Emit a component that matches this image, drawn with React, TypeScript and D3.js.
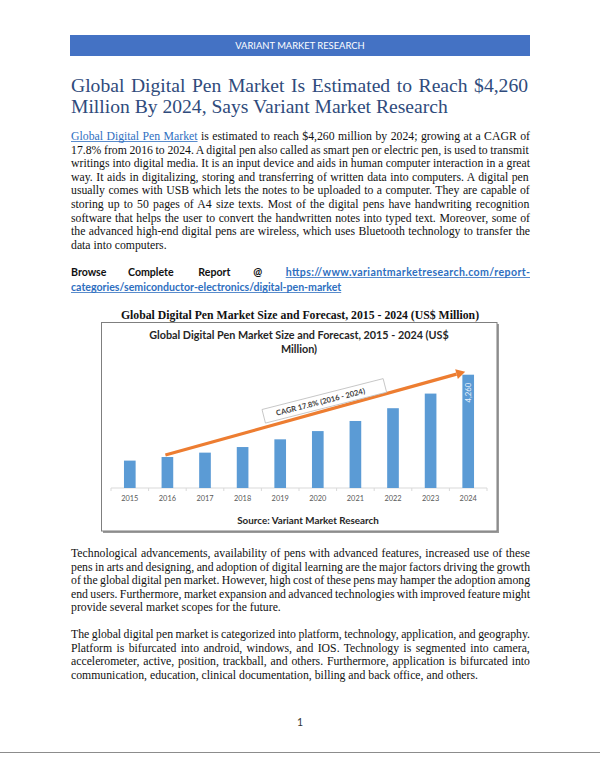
import React from 'react';
import * as d3 from 'd3';

// ---------- data ----------
const years = ['2015', '2016', '2017', '2018', '2019', '2020', '2021', '2022', '2023', '2024'];
const marketSize = [1030, 1165, 1330, 1540, 1830, 2140, 2520, 3000, 3550, 4260];
const lastValueLabel = '4,260';
const cagrLabel = 'CAGR 17.8% (2016 - 2024)';
const chartTitleLines = ['Global Digital Pen Market Size and Forecast, 2015 - 2024 (US$', 'Million)'];
const sourceText = 'Source: Variant Market Research';

const headerText = 'VARIANT MARKET RESEARCH';
const titleLines = [
  'Global Digital Pen Market Is Estimated to Reach $4,260',
  'Million By 2024, Says Variant Market Research',
];
const introLink = 'Global Digital Pen Market';
const para1 = [
  ' is estimated to reach $4,260 million by 2024; growing at a CAGR of',
  '17.8% from 2016 to 2024. A digital pen also called as smart pen or electric pen, is used to transmit',
  'writings into digital media. It is an input device and aids in human computer interaction in a great',
  'way. It aids in digitalizing, storing and transferring of written data into computers. A digital pen',
  'usually comes with USB which lets the notes to be uploaded to a computer. They are capable of',
  'storing up to 50 pages of A4 size texts. Most of the digital pens have handwriting recognition',
  'software that helps the user to convert the handwritten notes into typed text. Moreover, some of',
  'the advanced high-end digital pens are wireless, which uses Bluetooth technology to transfer the',
  'data into computers.',
];
const browseWords = ['Browse', 'Complete', 'Report', '@'];
const browseLinkLines = [
  'https://www.variantmarketresearch.com/report-',
  'categories/semiconductor-electronics/digital-pen-market',
];
const captionText = 'Global Digital Pen Market Size and Forecast, 2015 - 2024 (US$ Million)';
const para2 = [
  'Technological advancements, availability of pens with advanced features, increased use of these',
  'pens in arts and designing, and adoption of digital learning are the major factors driving the growth',
  'of the global digital pen market. However, high cost of these pens may hamper the adoption among',
  'end users. Furthermore, market expansion and advanced technologies with improved feature might',
  'provide several market scopes for the future.',
];
const para3 = [
  'The global digital pen market is categorized into platform, technology, application, and geography.',
  'Platform is bifurcated into android, windows, and IOS. Technology is segmented into camera,',
  'accelerometer, active, position, trackball, and others. Furthermore, application is bifurcated into',
  'communication, education, clinical documentation, billing and back office, and others.',
];
const pageNumber = '1';

// ---------- helpers ----------
const SERIF = '"Liberation Serif", "Times New Roman", serif';
const SANS = 'Lato, "Open Sans", sans-serif';
let ctx: CanvasRenderingContext2D | null = null;
function tw(text: string, size: number, family: string, weight = 'normal') {
  if (!ctx) ctx = document.createElement('canvas').getContext('2d');
  if (!ctx) return text.length * size * 0.45;
  ctx.font = `${weight} ${size}px ${family}`;
  return ctx.measureText(text).width;
}
function wordSpacing(text: string, width: number, size: number, family: string, weight = 'normal') {
  const spaces = (text.match(/ /g) || []).length;
  if (!spaces) return 0;
  return (width - tw(text, size, family, weight)) / spaces;
}

const LEFT = 71;
const RIGHT = 530;
const WIDTH = RIGHT - LEFT;
const BODY = 11.76;
const LH = 13.6;
const TEXT = '#111111';
const LINK = '#2f6fbf';

function Paragraph({ lines, y0 }: { lines: string[]; y0: number }) {
  return (
    <g>
      {lines.map((l, i) => {
        const last = i === lines.length - 1;
        const ws = last ? 0 : wordSpacing(l, WIDTH, BODY, SERIF);
        return (
          <text key={i} x={LEFT} y={y0 + i * LH} fontFamily={SERIF} fontSize={BODY} fill={TEXT}
            style={{ wordSpacing: `${ws}px` }}>
            {l}
          </text>
        );
      })}
    </g>
  );
}

function Chart() {
  const x = d3.scaleBand<string>().domain(years).range([111, 487]).paddingInner(0.69).paddingOuter(0.345);
  const y = d3.scaleLinear().domain([0, 4260]).range([488, 374.7]);
  const bw = x.bandwidth();
  const cx = (yr: string) => (x(yr) as number) + bw / 2;

  const a0: [number, number] = [cx('2016') - 2, y(marketSize[1]) - 2];
  const a1: [number, number] = [cx('2024') - 3, y(marketSize[9]) - 3];
  const ang = Math.atan2(a1[1] - a0[1], a1[0] - a0[0]);
  const head = 9, hw = 5;
  const bx = a1[0] - head * Math.cos(ang), by = a1[1] - head * Math.sin(ang);
  const headPts = [
    a1,
    [bx + hw * Math.sin(ang), by - hw * Math.cos(ang)],
    [bx - hw * Math.sin(ang), by + hw * Math.cos(ang)],
  ].map((p) => p.join(',')).join(' ');
  const mid: [number, number] = [(a0[0] + a1[0]) / 2, (a0[1] + a1[1]) / 2];
  const boxC: [number, number] = [mid[0] + 9, mid[1] - 12.5];
  const boundaries = d3.range(years.length + 1).map((i) => 111 + i * x.step());

  return (
    <g>
      {/* frame with shadow */}
      <rect x={103} y={324} width={396} height={209} fill="#9a9a9a" />
      <rect x={101.5} y={322.5} width={395.5} height={208.5} fill="#ffffff" stroke="#7f7f7f" strokeWidth={1} />
      {chartTitleLines.map((t, i) => (
        <text key={i} x={299} y={339 + i * 13.8} textAnchor="middle" fontFamily={SANS} fontWeight={700}
          fontSize={10.8} fill="#262626">{t}</text>
      ))}
      {/* axis */}
      <line x1={111} x2={487} y1={488} y2={488} stroke="#d9d9d9" strokeWidth={1} />
      {boundaries.map((b, i) => (
        <line key={i} x1={b} x2={b} y1={488} y2={491} stroke="#d9d9d9" strokeWidth={1} />
      ))}
      {years.map((yr, i) => (
        <rect key={yr} x={x(yr)} y={y(marketSize[i])} width={bw} height={488 - y(marketSize[i])} fill="#5b9bd5" />
      ))}
      {years.map((yr) => (
        <text key={yr} x={cx(yr)} y={500.5} textAnchor="middle" fontFamily={SANS} fontSize={7.4} fill="#595959">{yr}</text>
      ))}
      <text transform={`translate(${cx('2024') + 2.6},${y(marketSize[9]) + 18}) rotate(-90)`} textAnchor="middle"
        fontFamily={SANS} fontSize={7.8} fill="#eef4fb">{lastValueLabel}</text>
      {/* CAGR arrow */}
      <line x1={a0[0]} y1={a0[1]} x2={bx} y2={by} stroke="#ed7d31" strokeWidth={3.2} />
      <polygon points={headPts} fill="#ed7d31" />
      <g transform={`translate(${boxC[0]},${boxC[1]}) rotate(-14.3)`}>
        <rect x={-62.5} y={-7} width={125} height={14} fill="#ffffff" stroke="#bfbfbf" strokeWidth={0.8} />
        <text x={-4} y={2.8} textAnchor="middle" fontFamily={SANS} fontWeight={700} fontSize={7.6} fill="#404040">{cagrLabel}</text>
      </g>
      <text x={308} y={523.5} textAnchor="middle" fontFamily={SANS} fontWeight={700} fontSize={9.8} fill="#262626">{sourceText}</text>
    </g>
  );
}

export default function App() {
  const linkW = tw(introLink, BODY, SERIF);
  const line1 = introLink + para1[0];
  const ws1 = wordSpacing(line1, WIDTH, BODY, SERIF);
  const linkEnd = LEFT + linkW + ws1 * 3;

  const bSize = 10.6;
  const l1w = RIGHT - 285.7;
  const link2W = tw(browseLinkLines[1], bSize, SANS, '700');
  const browseX = [71, 128, 198.3, 253.3];

  return (
    <div style={{ position: 'absolute', left: 0, top: 0 }}>
      <svg width={600} height={776} viewBox="0 0 600 776" style={{ display: 'block', background: '#ffffff' }}>
        <rect x={0} y={0} width={600} height={776} fill="#ffffff" />
        {/* header */}
        <rect x={70} y={35} width={460} height={21} fill="#4472c4" />
        <text x={300} y={49} textAnchor="middle" fontFamily={SANS} fontSize={9.4} fill="#ffffff">{headerText}</text>
        {/* title */}
        {titleLines.map((t, i) => (
          <text key={i} x={LEFT} y={92 + i * 20.5} fontFamily={SERIF} fontSize={19.6} fill="#2f4b7c"
            style={{ wordSpacing: `${i === 0 ? wordSpacing(t, 457, 19.6, SERIF) : 0}px` }}>{t}</text>
        ))}
        {/* paragraph 1 */}
        <text x={LEFT} y={140} fontFamily={SERIF} fontSize={BODY} fill={TEXT} style={{ wordSpacing: `${ws1}px` }}>
          <tspan fill={LINK}>{introLink}</tspan>
          <tspan>{para1[0]}</tspan>
        </text>
        <line x1={LEFT} x2={linkEnd} y1={141.5} y2={141.5} stroke={LINK} strokeWidth={0.8} />
        <Paragraph lines={para1.slice(1)} y0={140 + LH} />
        {/* browse */}
        {browseWords.map((w, i) => (
          <text key={w} x={browseX[i]} y={275.5} fontFamily={SANS} fontWeight={700} fontSize={bSize} fill="#111111">{w}</text>
        ))}
        <text x={285.7} y={275.5} fontFamily={SANS} fontWeight={700} fontSize={bSize} fill={LINK}
          textLength={l1w} lengthAdjust="spacing">{browseLinkLines[0]}</text>
        <line x1={285.7} x2={RIGHT} y1={277.5} y2={277.5} stroke={LINK} strokeWidth={0.8} />
        <text x={LEFT} y={290.5} fontFamily={SANS} fontWeight={700} fontSize={bSize} fill={LINK}>{browseLinkLines[1]}</text>
        <line x1={LEFT} x2={LEFT + link2W} y1={292.5} y2={292.5} stroke={LINK} strokeWidth={0.8} />
        {/* caption */}
        <text x={300} y={319} textAnchor="middle" fontFamily={SERIF} fontWeight={700} fontSize={11.76} fill="#111111">{captionText}</text>
        <Chart />
        <Paragraph lines={para2} y0={557} />
        <Paragraph lines={para3} y0={638} />
        <text x={300} y={725.5} textAnchor="middle" fontFamily={SANS} fontSize={10.5} fill="#333333">{pageNumber}</text>
        <line x1={0} x2={600} y1={752.5} y2={752.5} stroke="#8c8c8c" strokeWidth={1.2} />
      </svg>
    </div>
  );
}
